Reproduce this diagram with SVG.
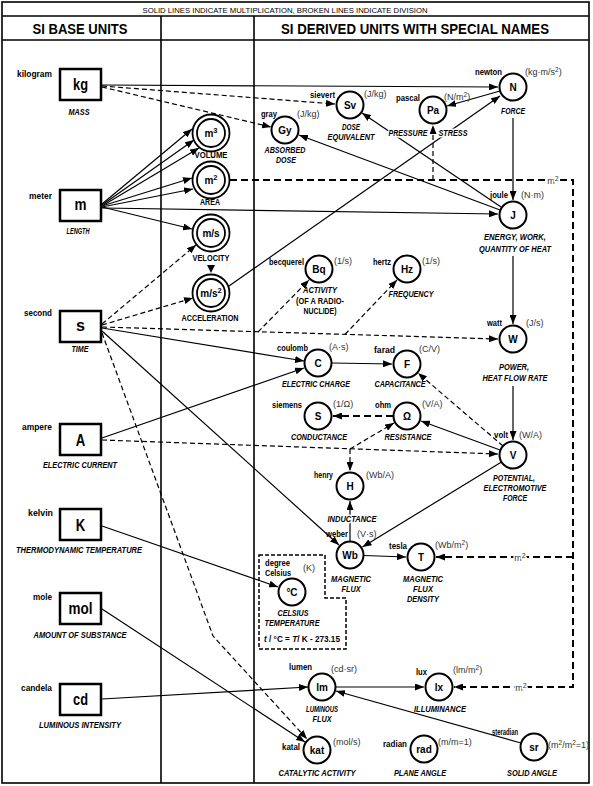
<svg xmlns="http://www.w3.org/2000/svg" width="593" height="786" viewBox="0 0 593 786">
<defs>
<marker id="a" viewBox="0 0 9 7" refX="9" refY="3.5" markerWidth="9" markerHeight="7" markerUnits="userSpaceOnUse" orient="auto"><path d="M0,0 L9,3.5 L0,7 z" fill="#000" stroke="none"/></marker>
</defs>
<style>
text{font-family:"Liberation Sans",Arial,sans-serif;fill:#000}
.frame{fill:none;stroke:#000;stroke-width:1.6}
.box{fill:#fff;stroke:#000;stroke-width:2.5}
.nd{fill:#fff;stroke:#000;stroke-width:2}
.dc{fill:#fff;stroke:#000;stroke-width:1.8}
.ln{fill:none;stroke:#000;stroke-width:1.2}
.ds{fill:none;stroke:#000;stroke-width:1.2;stroke-dasharray:5 3}
.bus{fill:none;stroke:#000;stroke-width:2;stroke-dasharray:7 4}
.nm{font-size:9.5px;font-weight:bold}
.un{font-size:9px;fill:#333}
.cap{font-size:9px;font-weight:bold;font-style:italic;text-anchor:middle}
.mid{font-size:9.5px;font-weight:bold;text-anchor:middle}
.sym{font-size:10px;font-weight:bold;text-anchor:middle}
.big{font-size:17px;font-weight:bold;text-anchor:middle}
.hd{font-size:14px;font-weight:bold;text-anchor:middle}
.h{stroke:#fff;stroke-width:3;paint-order:stroke;stroke-linejoin:round}
.end{text-anchor:end}
</style>
<rect width="593" height="786" fill="#fff"/>
<g id="frame">
<rect class="frame" x="2" y="2" width="587" height="781"/>
<line class="frame" x1="2" y1="16" x2="589" y2="16"/>
<line class="frame" x1="2" y1="40" x2="589" y2="40"/>
<line class="frame" x1="161" y1="16" x2="161" y2="783"/>
<line class="frame" x1="254" y1="16" x2="254" y2="783"/>
<text x="285" y="12.5" font-size="8" text-anchor="middle" textLength="285" lengthAdjust="spacingAndGlyphs">SOLID LINES INDICATE MULTIPLICATION, BROKEN LINES INDICATE DIVISION</text>
<text class="hd" x="80" y="33.5" textLength="95" lengthAdjust="spacingAndGlyphs">SI BASE UNITS</text>
<text class="hd" x="415" y="33.5" textLength="268" lengthAdjust="spacingAndGlyphs">SI DERIVED UNITS WITH SPECIAL NAMES</text>
</g>
<g id="connectors">
<path class="ln" d="M102,85 L498,87" marker-end="url(#a)"/>
<path class="ds" d="M102,86 L335,104" marker-end="url(#a)"/>
<path class="ds" d="M102,87 L271,127" marker-end="url(#a)"/>
<path class="ln" d="M102,204 L192,129" marker-end="url(#a)"/>
<path class="ln" d="M102,205 L194,140" marker-end="url(#a)"/>
<path class="ln" d="M102,206 L199,148" marker-end="url(#a)"/>
<path class="ln" d="M102,206 L192,178" marker-end="url(#a)"/>
<path class="ln" d="M102,207 L193,189" marker-end="url(#a)"/>
<path class="ln" d="M102,207 L192,229" marker-end="url(#a)"/>
<path class="ln" d="M102,208 L498,214" marker-end="url(#a)"/>
<path class="ds" d="M102,324 L196,245" marker-end="url(#a)"/>
<path class="ds" d="M102,325 L193,298" marker-end="url(#a)"/>
<path class="ln" d="M229,286 L500,96" marker-end="url(#a)"/>
<path class="ln" d="M500,91 L447,106" marker-end="url(#a)"/>
<path class="ln" d="M513,118 L513,200" marker-end="url(#a)"/>
<path class="ln" d="M501,207 L362,113" marker-end="url(#a)"/>
<path class="ln" d="M500,210 L299,135" marker-end="url(#a)"/>
<path class="ln" d="M513,256 L513,324" marker-end="url(#a)"/>
<path class="ds" d="M102,327 L498,339" marker-end="url(#a)"/>
<path class="ds" d="M258,332 L309,280" marker-end="url(#a)"/>
<path class="ds" d="M345,334.4 L397,280" marker-end="url(#a)"/>
<path class="ln" d="M102,328 L304,361" marker-end="url(#a)"/>
<path class="ln" d="M102,438 L304,368" marker-end="url(#a)"/>
<path class="ln" d="M332,363 L392,364" marker-end="url(#a)"/>
<path class="ln" d="M102,331 L339,545" marker-end="url(#a)"/>
<path class="ds" d="M102,440 L498,454" marker-end="url(#a)"/>
<path class="ds" d="M350,449 L350,471" marker-end="url(#a)"/>
<path class="ds" d="M350,449 L394,423" marker-end="url(#a)"/>
<path class="ln" d="M500,450 L421,421" marker-end="url(#a)"/>
<path class="ds" d="M503,446 L418,373" marker-end="url(#a)"/>
<path class="bus" d="M393,416 L333,416" marker-end="url(#a)"/>
<path class="ln" d="M501.5,462 L362.5,547" marker-end="url(#a)"/>
<path class="ln" d="M350,541 L350,501" marker-end="url(#a)"/>
<path class="ln" d="M364,555.5 L406,557" marker-end="url(#a)"/>
<path class="ln" d="M513,386 L513,440" marker-end="url(#a)"/>
<path class="ln" d="M102,526 L278,587" marker-end="url(#a)"/>
<path class="ln" d="M102,609 L305,742" marker-end="url(#a)"/>
<path class="ds" d="M102,333 L213,636 L307,739" marker-end="url(#a)"/>
<path class="ln" d="M102,699 L308,687" marker-end="url(#a)"/>
<path class="ln" d="M336,687 L424,687" marker-end="url(#a)"/>
<path class="ln" d="M521,743 L336,691" marker-end="url(#a)"/>
<path class="bus" d="M230,180 H573 V687 H454" marker-end="url(#a)"/>
<path class="bus" d="M573,557 H436" marker-end="url(#a)"/>
<path class="ds" d="M433,180 L433,125" marker-end="url(#a)"/>
<polygon points="207,265 215,265 211,273" fill="#000"/>
<text class="un h" x="553" y="184" text-anchor="middle" font-size="10">m<tspan dy="-3.5" font-size="7">2</tspan></text>
<text class="un h" x="520" y="561" text-anchor="middle" font-size="10">m<tspan dy="-3.5" font-size="7">2</tspan></text>
<text class="un h" x="521" y="691" text-anchor="middle" font-size="10">m<tspan dy="-3.5" font-size="7">2</tspan></text>
</g>
<g id="kg"><text class="nm end" x="52" y="77" textLength="35" lengthAdjust="spacingAndGlyphs">kilogram</text><rect class="box" x="60" y="69" width="41" height="31"/><text class="big" x="80.5" y="90" textLength="15" lengthAdjust="spacingAndGlyphs">kg</text><text class="cap" x="79" y="115" textLength="21" lengthAdjust="spacingAndGlyphs">MASS</text></g>
<g id="m"><text class="nm end" x="52" y="199" textLength="23" lengthAdjust="spacingAndGlyphs">meter</text><rect class="box" x="60" y="190" width="41" height="31"/><text class="big" x="80.5" y="210" textLength="12" lengthAdjust="spacingAndGlyphs">m</text><text class="cap" x="78" y="234" textLength="23" lengthAdjust="spacingAndGlyphs">LENGTH</text></g>
<g id="s"><text class="nm end" x="52" y="316" textLength="28" lengthAdjust="spacingAndGlyphs">second</text><rect class="box" x="60" y="311" width="41" height="31"/><text class="big" x="80.5" y="331" textLength="9" lengthAdjust="spacingAndGlyphs">s</text><text class="cap" x="80" y="352" textLength="17" lengthAdjust="spacingAndGlyphs">TIME</text></g>
<g id="A"><text class="nm end" x="52" y="430" textLength="30" lengthAdjust="spacingAndGlyphs">ampere</text><rect class="box" x="60" y="424" width="41" height="31"/><text class="big" x="80.5" y="445.5" textLength="9.5" lengthAdjust="spacingAndGlyphs">A</text><text class="cap" x="80" y="468" textLength="74" lengthAdjust="spacingAndGlyphs">ELECTRIC CURRENT</text></g>
<g id="K"><text class="nm end" x="53" y="516" textLength="25" lengthAdjust="spacingAndGlyphs">kelvin</text><rect class="box" x="60" y="509" width="41" height="31"/><text class="big" x="80.5" y="530.5" textLength="9.5" lengthAdjust="spacingAndGlyphs">K</text><text class="cap" x="79" y="553" textLength="126" lengthAdjust="spacingAndGlyphs">THERMODYNAMIC TEMPERATURE</text></g>
<g id="mol"><text class="nm end" x="52" y="600" textLength="19" lengthAdjust="spacingAndGlyphs">mole</text><rect class="box" x="60" y="593" width="41" height="31"/><text class="big" x="80.5" y="614" textLength="24" lengthAdjust="spacingAndGlyphs">mol</text><text class="cap" x="80" y="638" textLength="93" lengthAdjust="spacingAndGlyphs">AMOUNT OF SUBSTANCE</text></g>
<g id="cd"><text class="nm end" x="52" y="691" textLength="31" lengthAdjust="spacingAndGlyphs">candela</text><rect class="box" x="60" y="684" width="41" height="31"/><text class="big" x="80.5" y="705" textLength="15" lengthAdjust="spacingAndGlyphs">cd</text><text class="cap" x="80" y="728" textLength="82" lengthAdjust="spacingAndGlyphs">LUMINOUS INTENSITY</text></g>
<g id="volume"><circle class="dc" cx="211" cy="133" r="18.5"/><circle class="dc" cx="211" cy="133" r="14"/><text class="sym" x="211" y="137">m<tspan dy="-4" font-size="7.5">3</tspan></text><text class="mid" x="211" y="158" textLength="33" lengthAdjust="spacingAndGlyphs">VOLUME</text></g>
<g id="area"><circle class="dc" cx="211" cy="180" r="18.5"/><circle class="dc" cx="211" cy="180" r="14"/><text class="sym" x="211" y="184">m<tspan dy="-4" font-size="7.5">2</tspan></text><text class="mid" x="210" y="205" textLength="20" lengthAdjust="spacingAndGlyphs">AREA</text></g>
<g id="velocity"><circle class="dc" cx="211" cy="233" r="18.5"/><circle class="dc" cx="211" cy="233" r="14"/><text class="sym" x="211" y="236.5" font-size="9">m/s</text><text class="mid" x="211" y="261" textLength="37" lengthAdjust="spacingAndGlyphs">VELOCITY</text></g>
<g id="acceleration"><circle class="dc" cx="211" cy="293" r="18.5"/><circle class="dc" cx="211" cy="293" r="14"/><text class="sym" x="211" y="297" font-size="9">m/s<tspan dy="-4" font-size="7.5">2</tspan></text><text class="mid" x="210" y="321" textLength="57" lengthAdjust="spacingAndGlyphs">ACCELERATION</text></g>
<g id="Gy"><circle class="nd" cx="285" cy="130" r="13.5"/><text class="sym" x="285" y="133.5">Gy</text><text class="nm" x="261" y="117" textLength="16" lengthAdjust="spacingAndGlyphs">gray</text><text class="un" x="297" y="117">(J/kg)</text><text class="cap" x="285" y="153" textLength="41" lengthAdjust="spacingAndGlyphs">ABSORBED</text><text class="cap" x="286" y="163" textLength="20" lengthAdjust="spacingAndGlyphs">DOSE</text></g>
<g id="Sv"><circle class="nd" cx="350" cy="105" r="13.5"/><text class="sym" x="350" y="108.5">Sv</text><text class="nm end" x="335" y="98" textLength="25" lengthAdjust="spacingAndGlyphs">sievert</text><text class="un" x="364" y="97">(J/kg)</text><text class="cap" x="351" y="130" textLength="18" lengthAdjust="spacingAndGlyphs">DOSE</text><text class="cap" x="351" y="140" textLength="47" lengthAdjust="spacingAndGlyphs">EQUIVALENT</text></g>
<g id="Pa"><circle class="nd" cx="433" cy="110" r="13.5"/><text class="sym" x="433" y="113.5">Pa</text><text class="nm end" x="420" y="101" textLength="24" lengthAdjust="spacingAndGlyphs">pascal</text><text class="un" x="444" y="100">(N/m<tspan dy="-3" font-size="6.5">2</tspan><tspan dy="3">)</tspan></text><text class="cap h" x="408" y="136" textLength="39" lengthAdjust="spacingAndGlyphs">PRESSURE</text><text class="cap h" x="453" y="136" textLength="29" lengthAdjust="spacingAndGlyphs">STRESS</text></g>
<g id="N"><circle class="nd" cx="513" cy="87" r="13.5"/><text class="sym" x="513" y="90.5">N</text><text class="nm end" x="502" y="75" textLength="27" lengthAdjust="spacingAndGlyphs">newton</text><text class="un" x="525" y="75">(kg·m/s<tspan dy="-3" font-size="6.5">2</tspan><tspan dy="3">)</tspan></text><text class="cap" x="513" y="114" textLength="24" lengthAdjust="spacingAndGlyphs">FORCE</text></g>
<g id="J"><circle class="nd" cx="513" cy="215" r="13.5"/><text class="sym" x="513" y="218.5">J</text><text class="nm end" x="508" y="198" textLength="18" lengthAdjust="spacingAndGlyphs">joule</text><text class="un" x="521" y="198">(N·m)</text><text class="cap" x="515" y="240" textLength="62" lengthAdjust="spacingAndGlyphs">ENERGY, WORK,</text><text class="cap" x="515" y="252" textLength="72" lengthAdjust="spacingAndGlyphs">QUANTITY OF HEAT</text></g>
<g id="Bq"><circle class="nd" cx="319" cy="269" r="13.5"/><text class="sym" x="319" y="272.5">Bq</text><text class="nm end" x="304" y="265" textLength="35" lengthAdjust="spacingAndGlyphs">becquerel</text><text class="un" x="334" y="264">(1/s)</text><text class="cap" x="320" y="293" textLength="34" lengthAdjust="spacingAndGlyphs">ACTIVITY</text><text class="mid" x="320" y="304" textLength="48" lengthAdjust="spacingAndGlyphs">(OF A RADIO-</text><text class="mid" x="320" y="314" textLength="33" lengthAdjust="spacingAndGlyphs">NUCLIDE)</text></g>
<g id="Hz"><circle class="nd" cx="407" cy="269" r="13.5"/><text class="sym" x="407" y="272.5">Hz</text><text class="nm end" x="391" y="265" textLength="18" lengthAdjust="spacingAndGlyphs">hertz</text><text class="un" x="422" y="264">(1/s)</text><text class="cap" x="411" y="297" textLength="45" lengthAdjust="spacingAndGlyphs">FREQUENCY</text></g>
<g id="W"><circle class="nd" cx="513" cy="339" r="13.5"/><text class="sym" x="513" y="342.5">W</text><text class="nm end" x="502" y="326" textLength="15" lengthAdjust="spacingAndGlyphs">watt</text><text class="un" x="526" y="326">(J/s)</text><text class="cap" x="514" y="370" textLength="30" lengthAdjust="spacingAndGlyphs">POWER,</text><text class="cap" x="515" y="381" textLength="65" lengthAdjust="spacingAndGlyphs">HEAT FLOW RATE</text></g>
<g id="C"><circle class="nd" cx="318" cy="363" r="13.5"/><text class="sym" x="318" y="366.5">C</text><text class="nm end" x="308" y="351" textLength="31" lengthAdjust="spacingAndGlyphs">coulomb</text><text class="un" x="329" y="350">(A·s)</text><text class="cap" x="316" y="387" textLength="68" lengthAdjust="spacingAndGlyphs">ELECTRIC CHARGE</text></g>
<g id="F"><circle class="nd" cx="407" cy="364" r="13.5"/><text class="sym" x="407" y="367.5">F</text><text class="nm end" x="395" y="353" textLength="21" lengthAdjust="spacingAndGlyphs">farad</text><text class="un" x="419" y="352">(C/V)</text><text class="cap" x="400" y="387" textLength="51" lengthAdjust="spacingAndGlyphs">CAPACITANCE</text></g>
<g id="S"><circle class="nd" cx="318" cy="416" r="13.5"/><text class="sym" x="318" y="419.5">S</text><text class="nm end" x="302" y="408" textLength="30" lengthAdjust="spacingAndGlyphs">siemens</text><text class="un" x="333" y="407">(1/Ω)</text><text class="cap" x="319" y="440" textLength="56" lengthAdjust="spacingAndGlyphs">CONDUCTANCE</text></g>
<g id="ohm"><circle class="nd" cx="407" cy="416" r="13.5"/><text class="sym" x="407" y="419.5" font-weight="normal">Ω</text><text class="nm end" x="391" y="408" textLength="16" lengthAdjust="spacingAndGlyphs">ohm</text><text class="un" x="422" y="407">(V/A)</text><text class="cap" x="408" y="440" textLength="47" lengthAdjust="spacingAndGlyphs">RESISTANCE</text></g>
<g id="V"><circle class="nd" cx="513" cy="455" r="13.5"/><text class="sym" x="513" y="458.5">V</text><text class="nm end" x="508" y="438" textLength="14" lengthAdjust="spacingAndGlyphs">volt</text><text class="un" x="519" y="438">(W/A)</text><text class="cap" x="514" y="481" textLength="42" lengthAdjust="spacingAndGlyphs">POTENTIAL,</text><text class="cap" x="515" y="491" textLength="63" lengthAdjust="spacingAndGlyphs">ELECTROMOTIVE</text><text class="cap" x="515" y="501" textLength="24" lengthAdjust="spacingAndGlyphs">FORCE</text></g>
<g id="H"><circle class="nd" cx="350" cy="486" r="13.5"/><text class="sym" x="350" y="489.5">H</text><text class="nm end" x="333" y="478" textLength="19" lengthAdjust="spacingAndGlyphs">henry</text><text class="un" x="366" y="478">(Wb/A)</text><text class="cap h" x="352" y="522" textLength="49" lengthAdjust="spacingAndGlyphs">INDUCTANCE</text></g>
<g id="Wb"><circle class="nd" cx="350" cy="555" r="13.5"/><text class="sym" x="350" y="558.5">Wb</text><text class="nm end" x="348" y="537" textLength="22" lengthAdjust="spacingAndGlyphs">weber</text><text class="un" x="357" y="537">(V·s)</text><text class="cap" x="351" y="582" textLength="40" lengthAdjust="spacingAndGlyphs">MAGNETIC</text><text class="cap" x="351" y="592" textLength="19" lengthAdjust="spacingAndGlyphs">FLUX</text></g>
<g id="T"><circle class="nd" cx="421" cy="557" r="13.5"/><text class="sym" x="421" y="560.5">T</text><text class="nm end" x="407" y="549" textLength="18" lengthAdjust="spacingAndGlyphs">tesla</text><text class="un" x="435" y="548">(Wb/m<tspan dy="-3" font-size="6.5">2</tspan><tspan dy="3">)</tspan></text><text class="cap" x="423" y="582" textLength="40" lengthAdjust="spacingAndGlyphs">MAGNETIC</text><text class="cap" x="423" y="592" textLength="20" lengthAdjust="spacingAndGlyphs">FLUX</text><text class="cap" x="423" y="602" textLength="32" lengthAdjust="spacingAndGlyphs">DENSITY</text></g>
<g id="celsius"><path d="M259,555 H325 V598 H346 V649 H259 Z" fill="none" stroke="#000" stroke-width="1.5" stroke-dasharray="4 2"/><circle class="nd" cx="292" cy="592" r="13.5"/><text class="sym" x="292" y="595.5" font-size="9">°C</text><text class="nm" x="265" y="566" textLength="25" lengthAdjust="spacingAndGlyphs">degree</text><text class="nm" x="265" y="576" textLength="26" lengthAdjust="spacingAndGlyphs">Celsius</text><text class="un" x="303" y="571">(K)</text><text class="cap" x="293" y="616" textLength="31" lengthAdjust="spacingAndGlyphs">CELSIUS</text><text class="cap" x="292" y="626" textLength="55" lengthAdjust="spacingAndGlyphs">TEMPERATURE</text><text x="302" y="642" font-size="8.2" font-weight="bold" text-anchor="middle"><tspan font-style="italic">t</tspan> / °C = <tspan font-style="italic">T</tspan>/ K - 273.15</text></g>
<g id="lm"><circle class="nd" cx="322" cy="687" r="13.5"/><text class="sym" x="322" y="690.5">lm</text><text class="nm end" x="312" y="670" textLength="23" lengthAdjust="spacingAndGlyphs">lumen</text><text class="un" x="331" y="672">(cd·sr)</text><text class="cap" x="322" y="712" textLength="32" lengthAdjust="spacingAndGlyphs">LUMINOUS</text><text class="cap" x="322" y="722" textLength="19" lengthAdjust="spacingAndGlyphs">FLUX</text></g>
<g id="lx"><circle class="nd" cx="439" cy="687" r="13.5"/><text class="sym" x="439" y="690.5">lx</text><text class="nm end" x="427" y="675" textLength="11" lengthAdjust="spacingAndGlyphs">lux</text><text class="un" x="453" y="673">(lm/m<tspan dy="-3" font-size="6.5">2</tspan><tspan dy="3">)</tspan></text><text class="cap" x="440" y="712" textLength="52" lengthAdjust="spacingAndGlyphs">ILLUMINANCE</text></g>
<g id="kat"><circle class="nd" cx="317" cy="750" r="13.5"/><text class="sym" x="317" y="753.5">kat</text><text class="nm end" x="300" y="750" textLength="18" lengthAdjust="spacingAndGlyphs">katal</text><text class="un" x="333" y="745">(mol/s)</text><text class="cap" x="317" y="776" textLength="77" lengthAdjust="spacingAndGlyphs">CATALYTIC ACTIVITY</text></g>
<g id="rad"><circle class="nd" cx="424" cy="749" r="13.5"/><text class="sym" x="424" y="752.5">rad</text><text class="nm end" x="407" y="747" textLength="24" lengthAdjust="spacingAndGlyphs">radian</text><text class="un" x="438" y="745">(m/m=1)</text><text class="cap" x="420" y="776" textLength="52" lengthAdjust="spacingAndGlyphs">PLANE ANGLE</text></g>
<g id="sr"><circle class="nd" cx="534" cy="747" r="13.5"/><text class="sym" x="534" y="750.5">sr</text><text class="nm end" x="518" y="735" textLength="26" lengthAdjust="spacingAndGlyphs">steradian</text><text class="un" x="548" y="748">(m<tspan dy="-3" font-size="6.5">2</tspan><tspan dy="3">/m</tspan><tspan dy="-3" font-size="6.5">2</tspan><tspan dy="3">=1)</tspan></text><text class="cap" x="532" y="776" textLength="50" lengthAdjust="spacingAndGlyphs">SOLID ANGLE</text></g>
</svg>
